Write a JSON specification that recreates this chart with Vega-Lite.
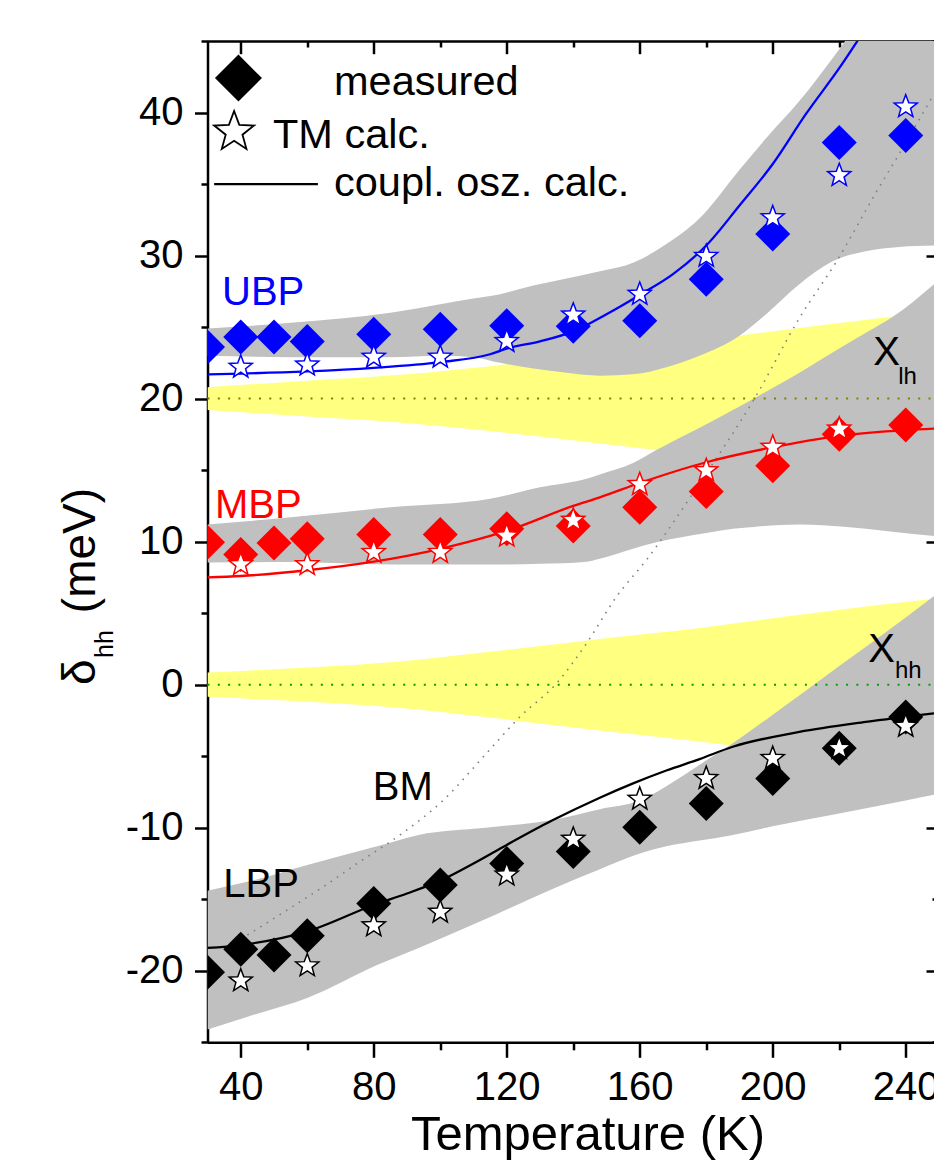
{
  "$schema": "https://vega.github.io/schema/vega-lite/v6.json",
  "width": 726.5,
  "height": 1001.3,
  "autosize": "none",
  "padding": {"left": 207.5, "top": 41, "right": 0, "bottom": 117.7},
  "background": "white",
  "config": {"view": {"stroke": null}, "font": "Liberation Sans"},
  "datasets": {
    "yellow": [
      {"T": 30, "lo": 19.2, "hi": 20.8, "band": "lh"},
      {"T": 60, "lo": 18.75, "hi": 21.25, "band": "lh"},
      {"T": 88, "lo": 18.33, "hi": 21.67, "band": "lh"},
      {"T": 115, "lo": 17.73, "hi": 22.27, "band": "lh"},
      {"T": 148, "lo": 16.87, "hi": 23.13, "band": "lh"},
      {"T": 165, "lo": 16.4, "hi": 23.6, "band": "lh"},
      {"T": 190, "lo": 15.6, "hi": 24.4, "band": "lh"},
      {"T": 235, "lo": 14.3, "hi": 25.7, "band": "lh"},
      {"T": 248.5, "lo": 13.9, "hi": 26.1, "band": "lh"},
      {"T": 30, "lo": -0.85, "hi": 0.85, "band": "hh"},
      {"T": 60, "lo": -1.2, "hi": 1.2, "band": "hh"},
      {"T": 88, "lo": -1.63, "hi": 1.63, "band": "hh"},
      {"T": 115, "lo": -2.3, "hi": 2.3, "band": "hh"},
      {"T": 148, "lo": -3.2, "hi": 3.2, "band": "hh"},
      {"T": 178, "lo": -3.97, "hi": 3.97, "band": "hh"},
      {"T": 210, "lo": -4.95, "hi": 4.95, "band": "hh"},
      {"T": 248.5, "lo": -6.0, "hi": 6.0, "band": "hh"}
    ],
    "gray": [
      {"T": 30, "lo": 23.0, "hi": 24.9, "band": "UBP"},
      {"T": 55, "lo": 22.9, "hi": 25.3, "band": "UBP"},
      {"T": 85, "lo": 22.9, "hi": 26.0, "band": "UBP"},
      {"T": 100, "lo": 23.0, "hi": 26.6, "band": "UBP"},
      {"T": 110, "lo": 22.9, "hi": 27.0, "band": "UBP"},
      {"T": 118, "lo": 22.5, "hi": 27.3, "band": "UBP"},
      {"T": 128, "lo": 22.1, "hi": 27.9, "band": "UBP"},
      {"T": 138, "lo": 21.8, "hi": 28.4, "band": "UBP"},
      {"T": 148, "lo": 21.6, "hi": 28.9, "band": "UBP"},
      {"T": 158, "lo": 21.7, "hi": 29.5, "band": "UBP"},
      {"T": 168, "lo": 22.2, "hi": 30.8, "band": "UBP"},
      {"T": 178, "lo": 23.0, "hi": 32.6, "band": "UBP"},
      {"T": 190, "lo": 24.4, "hi": 36.0, "band": "UBP"},
      {"T": 198, "lo": 25.9, "hi": 38.2, "band": "UBP"},
      {"T": 208, "lo": 28.0, "hi": 40.8, "band": "UBP"},
      {"T": 218, "lo": 29.6, "hi": 43.8, "band": "UBP"},
      {"T": 228, "lo": 30.3, "hi": 47.0, "band": "UBP"},
      {"T": 238, "lo": 30.6, "hi": 50.0, "band": "UBP"},
      {"T": 248.5, "lo": 30.7, "hi": 53.0, "band": "UBP"},
      {"T": 30, "lo": 8.55, "hi": 11.2, "band": "MBP"},
      {"T": 55, "lo": 8.57, "hi": 11.7, "band": "MBP"},
      {"T": 85, "lo": 8.4, "hi": 12.4, "band": "MBP"},
      {"T": 115, "lo": 8.4, "hi": 13.0, "band": "MBP"},
      {"T": 130, "lo": 8.45, "hi": 13.8, "band": "MBP"},
      {"T": 144, "lo": 8.6, "hi": 14.4, "band": "MBP"},
      {"T": 148, "lo": 8.8, "hi": 14.7, "band": "MBP"},
      {"T": 158, "lo": 9.5, "hi": 15.5, "band": "MBP"},
      {"T": 165, "lo": 9.95, "hi": 16.4, "band": "MBP"},
      {"T": 180, "lo": 10.6, "hi": 18.2, "band": "MBP"},
      {"T": 188, "lo": 10.9, "hi": 19.2, "band": "MBP"},
      {"T": 195, "lo": 11.05, "hi": 20.1, "band": "MBP"},
      {"T": 208, "lo": 11.2, "hi": 21.8, "band": "MBP"},
      {"T": 215, "lo": 11.15, "hi": 22.8, "band": "MBP"},
      {"T": 228, "lo": 10.9, "hi": 24.6, "band": "MBP"},
      {"T": 236, "lo": 10.7, "hi": 25.7, "band": "MBP"},
      {"T": 248.5, "lo": 10.4, "hi": 28.0, "band": "MBP"},
      {"T": 30, "lo": -24.1, "hi": -14.4, "band": "LBP"},
      {"T": 45, "lo": -23.0, "hi": -13.6, "band": "LBP"},
      {"T": 60, "lo": -21.9, "hi": -12.6, "band": "LBP"},
      {"T": 81, "lo": -19.6, "hi": -11.3, "band": "LBP"},
      {"T": 93.5, "lo": -18.4, "hi": -10.5, "band": "LBP"},
      {"T": 113.5, "lo": -16.4, "hi": -10.0, "band": "LBP"},
      {"T": 133.6, "lo": -14.3, "hi": -9.46, "band": "LBP"},
      {"T": 148, "lo": -12.9, "hi": -8.7, "band": "LBP"},
      {"T": 160, "lo": -11.8, "hi": -8.1, "band": "LBP"},
      {"T": 168, "lo": -11.3, "hi": -7.1, "band": "LBP"},
      {"T": 178, "lo": -10.9, "hi": -5.6, "band": "LBP"},
      {"T": 188, "lo": -10.5, "hi": -4.1, "band": "LBP"},
      {"T": 200, "lo": -9.9, "hi": -2.1, "band": "LBP"},
      {"T": 220, "lo": -9.0, "hi": 1.3, "band": "LBP"},
      {"T": 240, "lo": -8.1, "hi": 4.7, "band": "LBP"},
      {"T": 248.5, "lo": -7.7, "hi": 6.2, "band": "LBP"}
    ],
    "calc": [
      {"T": 30, "v": 21.7, "s": "UBP"}, {"T": 40, "v": 21.75, "s": "UBP"}, {"T": 60, "v": 21.9, "s": "UBP"},
      {"T": 80, "v": 22.15, "s": "UBP"}, {"T": 100, "v": 22.55, "s": "UBP"}, {"T": 115, "v": 23.1, "s": "UBP"},
      {"T": 120, "v": 23.5, "s": "UBP"}, {"T": 130, "v": 24.0, "s": "UBP"}, {"T": 140, "v": 24.7, "s": "UBP"},
      {"T": 150, "v": 25.9, "s": "UBP"}, {"T": 160, "v": 27.25, "s": "UBP"}, {"T": 170, "v": 28.7, "s": "UBP"},
      {"T": 180, "v": 30.7, "s": "UBP"}, {"T": 190, "v": 33.5, "s": "UBP"}, {"T": 200, "v": 36.4, "s": "UBP"},
      {"T": 210, "v": 39.9, "s": "UBP"}, {"T": 220, "v": 43.1, "s": "UBP"}, {"T": 230, "v": 46.6, "s": "UBP"},
      {"T": 240, "v": 50.0, "s": "UBP"},
      {"T": 30, "v": 7.5, "s": "MBP"}, {"T": 40, "v": 7.6, "s": "MBP"}, {"T": 60, "v": 8.0, "s": "MBP"},
      {"T": 80, "v": 8.6, "s": "MBP"}, {"T": 100, "v": 9.5, "s": "MBP"}, {"T": 115, "v": 10.4, "s": "MBP"},
      {"T": 120, "v": 10.75, "s": "MBP"}, {"T": 140, "v": 12.5, "s": "MBP"}, {"T": 148, "v": 13.1, "s": "MBP"},
      {"T": 160, "v": 14.1, "s": "MBP"}, {"T": 180, "v": 15.55, "s": "MBP"}, {"T": 200, "v": 16.6, "s": "MBP"},
      {"T": 220, "v": 17.4, "s": "MBP"}, {"T": 240, "v": 17.8, "s": "MBP"}, {"T": 248.5, "v": 17.9, "s": "MBP"},
      {"T": 30, "v": -18.4, "s": "LBP"}, {"T": 40, "v": -18.2, "s": "LBP"}, {"T": 60, "v": -17.25, "s": "LBP"},
      {"T": 80, "v": -15.4, "s": "LBP"}, {"T": 90, "v": -14.6, "s": "LBP"}, {"T": 100, "v": -13.7, "s": "LBP"},
      {"T": 110, "v": -12.5, "s": "LBP"}, {"T": 120, "v": -11.2, "s": "LBP"}, {"T": 133.6, "v": -9.5, "s": "LBP"},
      {"T": 148, "v": -7.9, "s": "LBP"}, {"T": 158, "v": -6.9, "s": "LBP"}, {"T": 168, "v": -6.0, "s": "LBP"},
      {"T": 178, "v": -5.2, "s": "LBP"}, {"T": 188, "v": -4.34, "s": "LBP"}, {"T": 208, "v": -3.3, "s": "LBP"},
      {"T": 228, "v": -2.6, "s": "LBP"}, {"T": 248.5, "v": -2.0, "s": "LBP"}
    ],
    "meas": [
      {"T": 30, "v": 23.6, "s": "UBP"}, {"T": 40, "v": 24.3, "s": "UBP"}, {"T": 50, "v": 24.3, "s": "UBP"},
      {"T": 60, "v": 24.0, "s": "UBP"}, {"T": 80, "v": 24.5, "s": "UBP"}, {"T": 100, "v": 24.85, "s": "UBP"},
      {"T": 120, "v": 25.1, "s": "UBP"}, {"T": 140, "v": 25.05, "s": "UBP"}, {"T": 160, "v": 25.44, "s": "UBP"},
      {"T": 180, "v": 28.35, "s": "UBP"}, {"T": 200, "v": 31.5, "s": "UBP"}, {"T": 220, "v": 37.9, "s": "UBP"},
      {"T": 240, "v": 38.4, "s": "UBP"},
      {"T": 30, "v": 9.95, "s": "MBP"}, {"T": 40, "v": 9.1, "s": "MBP"}, {"T": 50, "v": 9.9, "s": "MBP"},
      {"T": 60, "v": 10.2, "s": "MBP"}, {"T": 80, "v": 10.5, "s": "MBP"}, {"T": 100, "v": 10.5, "s": "MBP"},
      {"T": 120, "v": 10.9, "s": "MBP"}, {"T": 140, "v": 11.1, "s": "MBP"}, {"T": 160, "v": 12.4, "s": "MBP"},
      {"T": 180, "v": 13.5, "s": "MBP"}, {"T": 200, "v": 15.3, "s": "MBP"}, {"T": 220, "v": 17.5, "s": "MBP"},
      {"T": 240, "v": 18.15, "s": "MBP"},
      {"T": 30, "v": -20.1, "s": "LBP"}, {"T": 40, "v": -18.5, "s": "LBP"}, {"T": 50, "v": -18.9, "s": "LBP"},
      {"T": 60, "v": -17.55, "s": "LBP"}, {"T": 80, "v": -15.3, "s": "LBP"}, {"T": 100, "v": -14.0, "s": "LBP"},
      {"T": 120, "v": -12.5, "s": "LBP"}, {"T": 140, "v": -11.67, "s": "LBP"}, {"T": 160, "v": -9.97, "s": "LBP"},
      {"T": 180, "v": -8.3, "s": "LBP"}, {"T": 200, "v": -6.55, "s": "LBP"}, {"T": 220, "v": -4.45, "s": "LBP"},
      {"T": 240, "v": -2.25, "s": "LBP"}
    ],
    "tm": [
      {"T": 40, "v": 22.2, "s": "UBP"}, {"T": 60, "v": 22.35, "s": "UBP"}, {"T": 80, "v": 22.9, "s": "UBP"},
      {"T": 100, "v": 22.9, "s": "UBP"}, {"T": 120, "v": 24.0, "s": "UBP"}, {"T": 140, "v": 25.85, "s": "UBP"},
      {"T": 160, "v": 27.3, "s": "UBP"}, {"T": 180, "v": 29.95, "s": "UBP"}, {"T": 200, "v": 32.65, "s": "UBP"},
      {"T": 220, "v": 35.6, "s": "UBP"}, {"T": 240, "v": 40.4, "s": "UBP"},
      {"T": 40, "v": 8.4, "s": "MBP"}, {"T": 60, "v": 8.4, "s": "MBP"}, {"T": 80, "v": 9.25, "s": "MBP"},
      {"T": 100, "v": 9.25, "s": "MBP"}, {"T": 120, "v": 10.4, "s": "MBP"}, {"T": 140, "v": 11.5, "s": "MBP"},
      {"T": 160, "v": 14.0, "s": "MBP"}, {"T": 180, "v": 14.97, "s": "MBP"}, {"T": 200, "v": 16.6, "s": "MBP"},
      {"T": 220, "v": 17.88, "s": "MBP"},
      {"T": 40, "v": -20.7, "s": "LBP"}, {"T": 60, "v": -19.65, "s": "LBP"}, {"T": 80, "v": -16.85, "s": "LBP"},
      {"T": 100, "v": -15.9, "s": "LBP"}, {"T": 120, "v": -13.3, "s": "LBP"}, {"T": 140, "v": -10.8, "s": "LBP"},
      {"T": 160, "v": -8.0, "s": "LBP"}, {"T": 180, "v": -6.55, "s": "LBP"}, {"T": 200, "v": -5.15, "s": "LBP"},
      {"T": 220, "v": -4.45, "s": "LBP"}, {"T": 240, "v": -2.9, "s": "LBP"}
    ],
    "bm": [
      {"T": 42, "v": -17.5}, {"T": 55, "v": -15.6}, {"T": 65, "v": -14.1}, {"T": 75, "v": -12.5},
      {"T": 87.9, "v": -10.5}, {"T": 101, "v": -8.06}, {"T": 113, "v": -5.03}, {"T": 124, "v": -2.24},
      {"T": 135, "v": 0.1}, {"T": 144, "v": 2.89}, {"T": 153, "v": 6.15}, {"T": 162, "v": 8.72},
      {"T": 178, "v": 14.08}, {"T": 194.5, "v": 20.0}, {"T": 208.2, "v": 25.7}, {"T": 219.2, "v": 29.6},
      {"T": 231.3, "v": 34.5}, {"T": 238.5, "v": 37.3}, {"T": 248.5, "v": 41.3}
    ]
  },
  "resolve": {"axis": {"x": "independent", "y": "independent"}},
  "layer": [
    {
      "data": {"name": "yellow"},
      "mark": {"type": "area", "color": "#ffff80", "interpolate": "monotone", "clip": true},
      "encoding": {
        "x": {"field": "T", "type": "quantitative", "scale": {"domain": [30, 248.5], "nice": false, "zero": false},
          "axis": {"orient": "bottom", "values": [40, 60, 80, 100, 120, 140, 160, 180, 200, 220, 240],
            "title": "Temperature (K)",
            "labelExpr": "datum.value % 40 === 0 ? '' + datum.value : ''",
            "tickSize": {"condition": {"test": "datum.value % 40 === 0", "value": 15}, "value": 7.5},
            "tickWidth": 2.5, "tickColor": "black", "domainColor": "black", "domainWidth": 2.5,
            "labelFont": "Liberation Sans", "labelFontSize": 40, "labelColor": "black",
            "labelBaseline": "alphabetic", "labelPadding": 42, "labelFlush": false, "labelOverlap": false,
            "grid": false, "titleFont": "Liberation Sans", "titleFontSize": 49, "titleFontWeight": "normal",
            "titleColor": "black", "titleBaseline": "alphabetic", "titleX": 380, "titleY": 106.7}},
        "y": {"field": "lo", "type": "quantitative", "scale": {"domain": [-25, 45], "nice": false, "zero": false},
          "axis": {"orient": "left", "values": [-25, -20, -15, -10, -5, 0, 5, 10, 15, 20, 25, 30, 35, 40, 45],
            "title": null,
            "labelExpr": "datum.value % 10 === 0 ? '' + datum.value : ''",
            "tickSize": {"condition": {"test": "datum.value % 10 === 0", "value": 13}, "value": 6.5},
            "tickWidth": 2.5, "tickColor": "black", "domainColor": "black", "domainWidth": 2.5,
            "labelFont": "Liberation Sans", "labelFontSize": 40, "labelColor": "black",
            "labelPadding": 11.5, "labelFlush": false, "labelOverlap": false, "grid": false}},
        "y2": {"field": "hi"},
        "detail": {"field": "band"}
      }
    },
    {
      "data": {"name": "gray"},
      "mark": {"type": "area", "color": "#c0c0c0", "interpolate": "monotone", "clip": true},
      "encoding": {
        "x": {"field": "T", "type": "quantitative", "scale": {"domain": [30, 248.5], "nice": false, "zero": false},
          "axis": {"orient": "top", "values": [40, 60, 80, 100, 120, 140, 160, 180, 200, 220, 240],
            "title": null, "labels": false,
            "tickSize": {"condition": {"test": "datum.value % 40 === 0", "value": -12.7}, "value": -6},
            "tickWidth": 2.5, "tickColor": "black", "domainColor": "black", "domainWidth": 2.5, "grid": false}},
        "y": {"field": "lo", "type": "quantitative", "scale": {"domain": [-25, 45], "nice": false, "zero": false},
          "axis": {"orient": "right", "values": [-25, -20, -15, -10, -5, 0, 5, 10, 15, 20, 25, 30, 35, 40, 45],
            "title": null, "labels": false, "domain": false,
            "tickSize": {"condition": {"test": "datum.value % 10 === 0", "value": -8}, "value": -2},
            "tickWidth": 2.5, "tickColor": "black", "grid": false}},
        "y2": {"field": "hi"},
        "detail": {"field": "band"}
      }
    },
    {
      "data": {"values": [{"T": 30, "T2": 248.5, "v": 20}]},
      "mark": {"type": "rule", "color": "#808000", "strokeWidth": 2, "strokeDash": [2, 8.3]},
      "encoding": {
        "x": {"field": "T", "type": "quantitative", "scale": {"domain": [30, 248.5], "nice": false, "zero": false}, "axis": null},
        "x2": {"field": "T2"},
        "y": {"field": "v", "type": "quantitative", "scale": {"domain": [-25, 45], "nice": false, "zero": false}, "axis": null}
      }
    },
    {
      "data": {"values": [{"T": 30, "T2": 248.5, "v": 0}]},
      "mark": {"type": "rule", "color": "#00a000", "strokeWidth": 2, "strokeDash": [2, 8.3]},
      "encoding": {
        "x": {"field": "T", "type": "quantitative", "scale": {"domain": [30, 248.5], "nice": false, "zero": false}, "axis": null},
        "x2": {"field": "T2"},
        "y": {"field": "v", "type": "quantitative", "scale": {"domain": [-25, 45], "nice": false, "zero": false}, "axis": null}
      }
    },
    {
      "data": {"name": "bm"},
      "mark": {"type": "line", "color": "#808080", "strokeWidth": 1.6, "strokeDash": [1.6, 6], "interpolate": "monotone", "clip": true},
      "encoding": {
        "x": {"field": "T", "type": "quantitative", "scale": {"domain": [30, 248.5], "nice": false, "zero": false}, "axis": null},
        "y": {"field": "v", "type": "quantitative", "scale": {"domain": [-25, 45], "nice": false, "zero": false}, "axis": null}
      }
    },
    {
      "data": {"name": "calc"},
      "mark": {"type": "line", "strokeWidth": 2.3, "interpolate": "monotone", "clip": true},
      "encoding": {
        "x": {"field": "T", "type": "quantitative", "scale": {"domain": [30, 248.5], "nice": false, "zero": false}, "axis": null},
        "y": {"field": "v", "type": "quantitative", "scale": {"domain": [-25, 45], "nice": false, "zero": false}, "axis": null},
        "color": {"field": "s", "type": "nominal", "scale": {"domain": ["UBP", "MBP", "LBP"], "range": ["#0000ff", "#ff0000", "#000000"]}, "legend": null}
      }
    },
    {
      "data": {"name": "meas"},
      "mark": {"type": "point", "shape": "diamond", "filled": true, "size": 1225, "opacity": 1, "clip": true},
      "encoding": {
        "x": {"field": "T", "type": "quantitative", "scale": {"domain": [30, 248.5], "nice": false, "zero": false}, "axis": null},
        "y": {"field": "v", "type": "quantitative", "scale": {"domain": [-25, 45], "nice": false, "zero": false}, "axis": null},
        "color": {"field": "s", "type": "nominal", "scale": {"domain": ["UBP", "MBP", "LBP"], "range": ["#0000ff", "#ff0000", "#000000"]}, "legend": null}
      }
    },
    {
      "data": {"name": "tm"},
      "mark": {"type": "point", "shape": "M0,-1L0.247,-0.34L0.951,-0.309L0.399,0.13L0.588,0.809L0,0.42L-0.588,0.809L-0.399,0.13L-0.951,-0.309L-0.247,-0.34Z", "filled": true, "fill": "#ffffff", "fillOpacity": 1, "strokeWidth": 1.5, "strokeOpacity": 1, "size": 590, "clip": true},
      "encoding": {
        "x": {"field": "T", "type": "quantitative", "scale": {"domain": [30, 248.5], "nice": false, "zero": false}, "axis": null},
        "y": {"field": "v", "type": "quantitative", "scale": {"domain": [-25, 45], "nice": false, "zero": false}, "axis": null},
        "stroke": {"field": "s", "type": "nominal", "scale": {"domain": ["UBP", "MBP", "LBP"], "range": ["#0000ff", "#ff0000", "#000000"]}, "legend": null}
      }
    },
    {
      "data": {"values": [{"T": 39.3, "v": 42.41}]},
      "mark": {"type": "point", "shape": "diamond", "filled": true, "size": 2209, "color": "#000000", "opacity": 1},
      "encoding": {
        "x": {"field": "T", "type": "quantitative", "scale": {"domain": [30, 248.5], "nice": false, "zero": false}, "axis": null},
        "y": {"field": "v", "type": "quantitative", "scale": {"domain": [-25, 45], "nice": false, "zero": false}, "axis": null}
      }
    },
    {
      "data": {"values": [{"T": 38.0, "v": 38.64}]},
      "mark": {"type": "point", "shape": "M0,-1L0.247,-0.34L0.951,-0.309L0.399,0.13L0.588,0.809L0,0.42L-0.588,0.809L-0.399,0.13L-0.951,-0.309L-0.247,-0.34Z", "filled": true, "fill": "#ffffff", "stroke": "#000000", "strokeWidth": 1.8, "size": 1764, "opacity": 1},
      "encoding": {
        "x": {"field": "T", "type": "quantitative", "scale": {"domain": [30, 248.5], "nice": false, "zero": false}, "axis": null},
        "y": {"field": "v", "type": "quantitative", "scale": {"domain": [-25, 45], "nice": false, "zero": false}, "axis": null}
      }
    },
    {
      "data": {"values": [{"T": 32, "T2": 63.2, "v": 35.0}]},
      "mark": {"type": "rule", "color": "#000000", "strokeWidth": 2.3},
      "encoding": {
        "x": {"field": "T", "type": "quantitative", "scale": {"domain": [30, 248.5], "nice": false, "zero": false}, "axis": null},
        "x2": {"field": "T2"},
        "y": {"field": "v", "type": "quantitative", "scale": {"domain": [-25, 45], "nice": false, "zero": false}, "axis": null}
      }
    },
    {
      "data": {"values": [
        {"T": 68.05, "v": 41.22, "text": "measured"},
        {"T": 49.7, "v": 37.5, "text": "TM calc."},
        {"T": 68.05, "v": 34.18, "text": "coupl. osz. calc."}
      ]},
      "mark": {"type": "text", "align": "left", "baseline": "alphabetic", "font": "Liberation Sans", "fontSize": 41.5, "color": "#000000"},
      "encoding": {
        "x": {"field": "T", "type": "quantitative", "scale": {"domain": [30, 248.5], "nice": false, "zero": false}, "axis": null},
        "y": {"field": "v", "type": "quantitative", "scale": {"domain": [-25, 45], "nice": false, "zero": false}, "axis": null},
        "text": {"field": "text"}
      }
    },
    {
      "data": {"values": [
        {"T": 34.75, "v": -14.82, "text": "LBP"},
        {"T": 79.7, "v": -8.06, "text": "BM"},
        {"T": 230.2, "v": 22.35, "text": "X"},
        {"T": 228.7, "v": 1.61, "text": "X"}
      ]},
      "mark": {"type": "text", "align": "left", "baseline": "alphabetic", "font": "Liberation Sans", "fontSize": 40, "color": "#000000"},
      "encoding": {
        "x": {"field": "T", "type": "quantitative", "scale": {"domain": [30, 248.5], "nice": false, "zero": false}, "axis": null},
        "y": {"field": "v", "type": "quantitative", "scale": {"domain": [-25, 45], "nice": false, "zero": false}, "axis": null},
        "text": {"field": "text"}
      }
    },
    {
      "data": {"values": [
        {"T": 237.76, "v": 21.02, "text": "lh"},
        {"T": 236.77, "v": 0.45, "text": "hh"}
      ]},
      "mark": {"type": "text", "align": "left", "baseline": "alphabetic", "font": "Liberation Sans", "fontSize": 24, "color": "#000000"},
      "encoding": {
        "x": {"field": "T", "type": "quantitative", "scale": {"domain": [30, 248.5], "nice": false, "zero": false}, "axis": null},
        "y": {"field": "v", "type": "quantitative", "scale": {"domain": [-25, 45], "nice": false, "zero": false}, "axis": null},
        "text": {"field": "text"}
      }
    },
    {
      "data": {"values": [{"T": 34.36, "v": 26.54, "text": "UBP"}]},
      "mark": {"type": "text", "align": "left", "baseline": "alphabetic", "font": "Liberation Sans", "fontSize": 40, "color": "#0000ff"},
      "encoding": {
        "x": {"field": "T", "type": "quantitative", "scale": {"domain": [30, 248.5], "nice": false, "zero": false}, "axis": null},
        "y": {"field": "v", "type": "quantitative", "scale": {"domain": [-25, 45], "nice": false, "zero": false}, "axis": null},
        "text": {"field": "text"}
      }
    },
    {
      "data": {"values": [{"T": 32.26, "v": 11.63, "text": "MBP"}]},
      "mark": {"type": "text", "align": "left", "baseline": "alphabetic", "font": "Liberation Sans", "fontSize": 40, "color": "#ff0000"},
      "encoding": {
        "x": {"field": "T", "type": "quantitative", "scale": {"domain": [30, 248.5], "nice": false, "zero": false}, "axis": null},
        "y": {"field": "v", "type": "quantitative", "scale": {"domain": [-25, 45], "nice": false, "zero": false}, "axis": null},
        "text": {"field": "text"}
      }
    },
    {
      "data": {"values": [
        {"T": -3.83, "v": -0.02, "text": "δ"},
        {"T": -3.83, "v": 5.0, "text": "(meV)"}
      ]},
      "mark": {"type": "text", "align": "left", "baseline": "alphabetic", "angle": 270, "font": "Liberation Sans", "fontSize": 46, "color": "#000000"},
      "encoding": {
        "x": {"field": "T", "type": "quantitative", "scale": {"domain": [30, 248.5], "nice": false, "zero": false}, "axis": null},
        "y": {"field": "v", "type": "quantitative", "scale": {"domain": [-25, 45], "nice": false, "zero": false}, "axis": null},
        "text": {"field": "text"}
      }
    },
    {
      "data": {"values": [{"T": 1.58, "v": 1.87, "text": "hh"}]},
      "mark": {"type": "text", "align": "left", "baseline": "alphabetic", "angle": 270, "font": "Liberation Sans", "fontSize": 25, "color": "#000000"},
      "encoding": {
        "x": {"field": "T", "type": "quantitative", "scale": {"domain": [30, 248.5], "nice": false, "zero": false}, "axis": null},
        "y": {"field": "v", "type": "quantitative", "scale": {"domain": [-25, 45], "nice": false, "zero": false}, "axis": null},
        "text": {"field": "text"}
      }
    }
  ]
}
